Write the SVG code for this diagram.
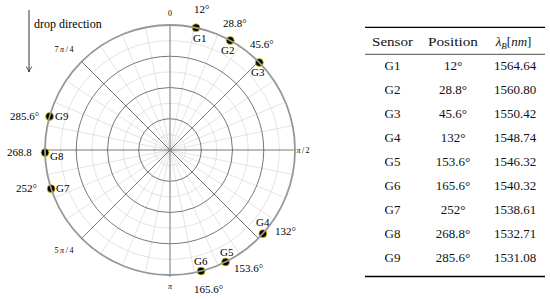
<svg xmlns="http://www.w3.org/2000/svg" width="550" height="299" viewBox="0 0 550 299">
<style>
text{font-family:"Liberation Serif","Times New Roman",serif;fill:#000}
.lab{font-size:11px}
.tick{font-size:8px;text-anchor:middle}
.tb{font-size:13px;text-anchor:middle;fill:#111}
.minor{fill:none;stroke:#d2d2d2;stroke-width:0.6}
.major{fill:none;stroke:#555;stroke-width:0.8}
.dot{fill:#000;stroke:#e8d800;stroke-width:0.8}
</style>
<defs>
<marker id="ah" viewBox="0 0 10 10" refX="9" refY="5" markerWidth="7" markerHeight="7" orient="auto" markerUnits="userSpaceOnUse">
<path d="M1,1 Q6,4 9,5 Q6,6 1,9" fill="none" stroke="#333" stroke-width="1.2"/>
</marker>
</defs>
<rect width="550" height="299" fill="#fff"/>
<g id="grid">
<g class="minor">
<circle cx="170" cy="150" r="15.625"/>
<circle cx="170" cy="150" r="46.875"/>
<circle cx="170" cy="150" r="78.125"/>
<circle cx="170" cy="150" r="109.375"/>
<path d="M145.614,272.599L194.386,27.401M122.165,265.485L217.835,34.515M100.554,253.934L239.446,46.066M66.066,219.446L273.934,80.554M54.515,197.835L285.485,102.165M47.401,174.386L292.599,125.614M47.401,125.614L292.599,174.386M54.515,102.165L285.485,197.835M66.066,80.554L273.934,219.446M100.554,46.066L239.446,253.934M122.165,34.515L217.835,265.485M145.614,27.401L194.386,272.599"/>
</g>
<g class="major">
<circle cx="170" cy="150" r="31.25"/>
<circle cx="170" cy="150" r="62.5"/>
<circle cx="170" cy="150" r="93.75"/>
<path d="M81.612,238.388L258.388,61.612M81.612,61.612L258.388,238.388M45,150L295,150"/>
</g>
<line x1="170" y1="25" x2="170" y2="277" stroke="#8c8c8c" stroke-width="1.2"/>
</g>
<g id="ticks">
<text class="tick" x="170" y="16">0</text>
<text class="tick" x="64" y="52" textLength="19" lengthAdjust="spacing">7<tspan font-style="italic">π</tspan>/4</text>
<text class="tick" x="303" y="153" textLength="13" lengthAdjust="spacing"><tspan font-style="italic">π</tspan>/2</text>
<text class="tick" x="64" y="253" textLength="19" lengthAdjust="spacing">5<tspan font-style="italic">π</tspan>/4</text>
<text class="tick" x="170" y="289" font-style="italic">π</text>
</g>
<g id="sensors">
<g id="G1"><circle class="dot" cx="195.99" cy="27.73" r="4"/><text class="lab" x="194" y="12.5">12°</text><text class="lab" x="193" y="41.5">G1</text></g>
<g id="G2"><circle class="dot" cx="230.22" cy="40.46" r="4"/><text class="lab" x="223" y="27">28.8°</text><text class="lab" x="221" y="54">G2</text></g>
<g id="G3"><circle class="dot" cx="259.30" cy="62.53" r="4"/><text class="lab" x="250" y="48">45.6°</text><text class="lab" x="251" y="76">G3</text></g>
<g id="G4"><circle class="dot" cx="262.89" cy="233.64" r="4"/><text class="lab" x="256" y="226">G4</text><text class="lab" x="275" y="235">132°</text></g>
<g id="G5"><circle class="dot" cx="225.58" cy="261.96" r="4"/><text class="lab" x="220" y="256">G5</text><text class="lab" x="234" y="272">153.6°</text></g>
<g id="G6"><circle class="dot" cx="201.09" cy="271.07" r="4"/><text class="lab" x="194" y="265">G6</text><text class="lab" x="194" y="293">165.6°</text></g>
<g id="G7"><circle class="dot" cx="51.12" cy="188.63" r="4"/><text class="lab" x="16" y="192">252°</text><text class="lab" x="56" y="192">G7</text></g>
<g id="G8"><circle class="dot" cx="45.03" cy="152.62" r="4"/><text class="lab" x="7" y="156">268.8</text><text class="lab" x="50" y="160">G8</text></g>
<g id="G9"><circle class="dot" cx="49.60" cy="116.39" r="4"/><text class="lab" x="10" y="120">285.6°</text><text class="lab" x="55" y="120">G9</text></g>
</g>
<circle id="rim" cx="170" cy="150" r="125" fill="none" stroke="#979797" stroke-width="1.8"/>
<g id="connectors">
<line x1="29" y1="10" x2="29" y2="72" stroke="#333" stroke-width="1" marker-end="url(#ah)"/>
</g>
<text id="drop" x="34" y="27.5" font-size="12">drop direction</text>
<g id="table">
<line x1="365" y1="27.3" x2="545" y2="27.3" stroke="#000" stroke-width="1.3"/>
<line x1="365" y1="54.3" x2="545" y2="54.3" stroke="#000" stroke-width="0.7"/>
<line x1="365" y1="276.5" x2="545" y2="276.5" stroke="#000" stroke-width="1.3"/>
<text class="tb" x="392.5" y="46" textLength="41" lengthAdjust="spacingAndGlyphs">Sensor</text>
<text class="tb" x="453" y="46" textLength="50" lengthAdjust="spacingAndGlyphs">Position</text>
<text class="tb" x="513.5" y="46"><tspan font-style="italic">λ</tspan><tspan font-style="italic" font-size="9" dy="3">B</tspan><tspan dy="-3">[</tspan><tspan font-style="italic">nm</tspan>]</text>
<g id="r1"><text class="tb" x="392.5" y="70">G1</text><text class="tb" x="453" y="70">12°</text><text class="tb" x="515" y="70">1564.64</text></g>
<g id="r2"><text class="tb" x="392.5" y="94">G2</text><text class="tb" x="453" y="94">28.8°</text><text class="tb" x="515" y="94">1560.80</text></g>
<g id="r3"><text class="tb" x="392.5" y="118">G3</text><text class="tb" x="453" y="118">45.6°</text><text class="tb" x="515" y="118">1550.42</text></g>
<g id="r4"><text class="tb" x="392.5" y="142">G4</text><text class="tb" x="453" y="142">132°</text><text class="tb" x="515" y="142">1548.74</text></g>
<g id="r5"><text class="tb" x="392.5" y="166">G5</text><text class="tb" x="453" y="166">153.6°</text><text class="tb" x="515" y="166">1546.32</text></g>
<g id="r6"><text class="tb" x="392.5" y="190">G6</text><text class="tb" x="453" y="190">165.6°</text><text class="tb" x="515" y="190">1540.32</text></g>
<g id="r7"><text class="tb" x="392.5" y="214">G7</text><text class="tb" x="453" y="214">252°</text><text class="tb" x="515" y="214">1538.61</text></g>
<g id="r8"><text class="tb" x="392.5" y="238">G8</text><text class="tb" x="453" y="238">268.8°</text><text class="tb" x="515" y="238">1532.71</text></g>
<g id="r9"><text class="tb" x="392.5" y="262">G9</text><text class="tb" x="453" y="262">285.6°</text><text class="tb" x="515" y="262">1531.08</text></g>
</g>
</svg>
